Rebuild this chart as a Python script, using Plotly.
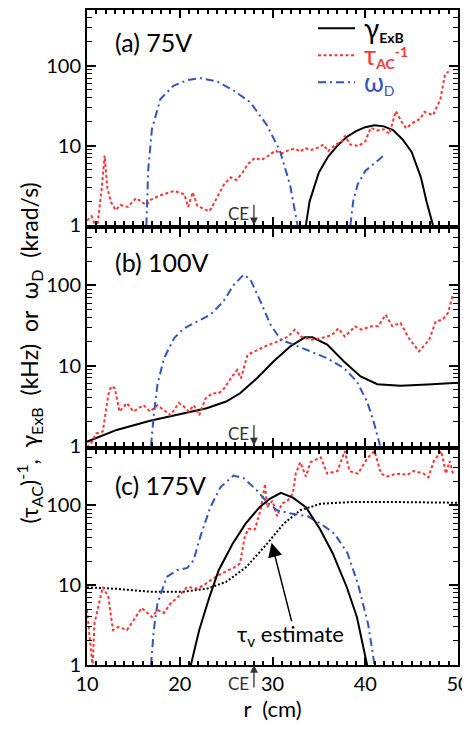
import numpy as np
import plotly.graph_objects as go

# ---------------- data ----------------
# panel (a) 75V
a_gam_r = [33.6, 34.0, 35.0, 36.0, 37.0, 38.0, 39.0, 40.0, 41.0, 42.0, 43.0, 44.0, 45.0, 46.0, 46.6, 47.3]
a_gam_v = [1.0, 2.0, 4.6, 7.3, 10.0, 12.8, 15.2, 17.0, 18.0, 17.4, 15.6, 12.0, 8.3, 4.0, 2.0, 1.0]

a_tau_r = [10.0, 10.5, 10.8, 11.1, 11.6, 11.9, 12.2, 12.6, 13.1, 13.6, 14.4, 15.3, 15.8, 16.4, 16.9,
           18.0, 19.4, 20.5, 20.9, 21.4, 21.9, 22.6, 23.2, 23.7, 24.8, 25.5, 26.1, 26.8, 27.3, 28.1,
           28.8, 29.5, 30.3, 31.0, 31.7, 32.4, 33.0, 33.5, 34.2, 35.0, 35.5, 36.0, 36.8, 37.5, 37.8,
           38.4, 39.3, 40.0, 40.6, 41.3, 42.0, 42.6, 43.3, 43.9, 44.4, 45.2, 45.9, 46.4, 47.3, 48.1,
           48.6, 49.0]
a_tau_v = [1.15, 1.3, 1.05, 0.95, 3.0, 7.5, 2.9, 1.95, 1.55, 1.8, 1.7, 2.2, 2.0, 1.8, 2.1,
           2.4, 2.7, 2.45, 1.7, 2.6, 1.75, 1.6, 1.5, 1.9, 3.3, 4.0, 3.7, 4.6, 5.8, 7.0,
           6.6, 7.4, 8.6, 8.0, 8.7, 9.2, 8.4, 9.3, 8.8, 9.5, 10.3, 8.5, 10.3, 11.3, 13.3,
           10.3, 9.9, 11.3, 16.7, 15.5, 16.0, 14.0, 27.0, 20.0, 16.5, 19.5, 21.5, 26.5, 24.0, 38.0,
           78.0, 85.0]

a_om1_r = [16.4, 16.6, 17.0, 17.9, 19.3, 20.8, 22.2, 24.0, 25.8, 27.6, 29.4, 30.8, 31.9, 32.7]
a_om1_v = [1.0, 5.0, 16.0, 38.0, 56.0, 66.0, 70.0, 64.0, 49.0, 35.0, 18.0, 8.6, 3.2, 1.0]
a_om2_r = [38.4, 38.7, 39.2, 40.0, 41.0, 42.1]
a_om2_v = [1.0, 2.0, 3.3, 4.8, 6.0, 7.7]

# panel (b) 100V
b_gam_r = [10.0, 13.2, 16.8, 20.4, 22.9, 25.0, 26.5, 28.3, 30.1, 31.9, 33.5, 34.3, 35.9, 37.7, 39.5,
           41.3, 43.8, 46.7, 50.0]
b_gam_v = [1.12, 1.57, 2.04, 2.53, 2.93, 3.55, 4.5, 6.9, 11.2, 17.3, 22.5, 22.5, 18.2, 11.2, 7.3,
           5.85, 5.6, 5.8, 6.1]

b_tau_r = [10.0, 10.5, 11.0, 11.7, 12.3, 12.6, 13.0, 13.5, 14.3, 15.0, 16.1, 16.8, 17.6, 18.3, 19.0,
           19.9, 20.4, 21.0, 21.5, 22.1, 22.8, 23.5, 24.2, 24.8, 25.5, 26.2, 26.6, 27.3, 28.4, 29.5,
           30.6, 31.7, 32.4, 33.1, 34.2, 35.3, 36.4, 37.1, 37.8, 38.9, 39.6, 40.7, 41.4, 42.2, 42.9,
           43.8, 44.7, 45.8, 46.9, 47.6, 48.3, 48.9, 49.4]
b_tau_v = [0.95, 1.1, 1.42, 1.5, 4.3, 5.5, 5.2, 2.66, 3.4, 2.66, 3.2, 2.66, 3.2, 2.8, 2.4,
           3.4, 3.1, 2.66, 3.2, 2.4, 3.9, 4.5, 4.5, 5.2, 6.9, 8.8, 6.9, 13.6, 15.7, 18.0,
           20.0, 23.0, 28.0, 23.0, 21.0, 22.0, 24.0, 29.0, 23.0, 30.7, 28.0, 31.0, 31.0, 43.0, 31.0,
           34.0, 22.0, 15.0, 21.0, 35.6, 37.0, 45.0, 73.0]

b_om_r = [16.9, 17.2, 17.6, 18.3, 19.4, 20.4, 21.9, 23.3, 24.7, 25.8, 26.9, 27.6, 28.7, 29.8, 30.9,
          32.3, 34.1, 35.9, 37.7, 39.1, 40.2, 40.9, 41.6]
b_om_v = [1.0, 2.4, 5.8, 12.3, 22.0, 28.7, 35.6, 43.0, 63.0, 101.0, 136.0, 120.0, 63.0, 32.0, 21.0,
          18.2, 15.0, 12.3, 9.3, 6.3, 3.55, 2.0, 1.0]

# panel (c) 175V
c_gam_r = [21.2, 22.1, 23.2, 24.2, 25.7, 27.1, 28.6, 29.7, 30.9, 32.2, 33.6, 35.1, 36.5, 38.0, 39.1, 40.2]
c_gam_v = [1.0, 2.74, 7.1, 15.4, 33.0, 59.0, 95.0, 121.0, 144.0, 125.0, 95.0, 51.0, 25.0, 9.5, 4.0, 1.0]

c_tau_r = [10.0, 10.3, 10.6, 10.8, 11.4, 11.7, 12.3, 12.8, 13.4, 14.3, 15.0, 15.9, 16.5, 17.0, 17.6,
           18.3, 19.0, 19.8, 20.8, 21.9, 22.6, 23.3, 24.3, 25.0, 25.8, 26.5, 27.0, 27.4, 28.1, 28.7,
           29.2, 29.4, 30.0, 30.5, 31.0, 31.6, 32.2, 32.5, 33.0, 33.6, 34.1, 35.2, 35.9, 37.0, 37.8,
           38.3, 39.2, 40.3, 41.0, 41.7, 42.4, 43.1, 43.8, 44.5, 45.2, 46.3, 46.8, 47.4, 48.2, 48.7,
           49.1, 49.5]
c_tau_v = [4.9, 2.3, 0.95, 3.3, 7.1, 9.5, 7.1, 2.74, 3.0, 2.74, 3.6, 5.2, 4.5, 4.0, 4.9,
           4.5, 5.9, 7.1, 9.5, 9.1, 10.0, 11.5, 13.6, 15.0, 16.5, 18.7, 40.0, 51.0, 50.0, 87.0,
           186.0, 95.0, 114.0, 73.0, 105.0, 114.0, 140.0, 250.0, 348.0, 230.0, 348.0, 400.0, 250.0, 270.0, 480.0,
           270.0, 250.0, 400.0, 480.0, 250.0, 230.0, 245.0, 250.0, 240.0, 270.0, 250.0, 225.0, 360.0, 480.0, 250.0,
           360.0, 240.0]

c_om_r = [16.9, 17.2, 17.6, 18.1, 18.6, 19.7, 20.8, 21.5, 22.2, 23.3, 24.4, 25.8, 26.9, 28.3, 29.4,
          30.5, 32.0, 33.8, 35.2, 36.7, 38.1, 39.2, 40.3, 41.0]
c_om_v = [1.0, 2.74, 5.9, 8.7, 12.7, 15.4, 16.5, 20.6, 40.0, 95.0, 170.0, 237.0, 220.0, 155.0, 110.0,
          87.0, 79.0, 73.0, 59.0, 44.0, 25.0, 10.5, 3.3, 1.0]

c_tv_r = [10.0, 13.2, 16.8, 20.4, 22.9, 25.0, 27.2, 29.4, 31.2, 33.0, 35.2, 38.4, 44.0, 50.0]
c_tv_v = [9.4, 9.0, 8.3, 8.3, 9.0, 11.0, 17.0, 33.0, 59.0, 87.0, 105.0, 110.0, 110.0, 108.0]

panel_labels = ["(a) 75V", "(b) 100V", "(c) 175V"]
ce_pos = 28.0

# ---------------- styles ----------------
BLACK = "#000000"
RED = "#ff3333"
BLUE = "#3355bb"
FONT = "Lato"

solid = dict(color=BLACK, width=2)
reddot = dict(color=RED, width=2, dash="3px,2.5px")
bluedd = dict(color=BLUE, width=2, dash="8px,4px,2px,4px")
blackdot = dict(color=BLACK, width=2, dash="2px,2px")

fig = go.Figure()

# y domains (top -> bottom), in paper fraction
domains = [[0.6712, 1.0], [0.3349, 0.6651], [0.0, 0.3288]]


def add(x, y, line, panel):
    fig.add_trace(go.Scatter(
        x=x, y=y, mode="lines", line=line,
        xaxis="x" if panel == 1 else f"x{panel}",
        yaxis="y" if panel == 1 else f"y{panel}",
        showlegend=False, hoverinfo="skip"
    ))


# panel a
add(a_gam_r, a_gam_v, solid, 1)
add(a_tau_r, a_tau_v, reddot, 1)
add(a_om1_r, a_om1_v, bluedd, 1)
add(a_om2_r, a_om2_v, bluedd, 1)
# panel b
add(b_gam_r, b_gam_v, solid, 2)
add(b_tau_r, b_tau_v, reddot, 2)
add(b_om_r, b_om_v, bluedd, 2)
# panel c
add(c_tv_r, c_tv_v, blackdot, 3)
add(c_tau_r, c_tau_v, reddot, 3)
add(c_om_r, c_om_v, bluedd, 3)
add(c_gam_r, c_gam_v, solid, 3)

ymin_tick = [2, 3, 4, 5, 6, 7, 8, 9, 20, 30, 40, 50, 60, 70, 80, 90, 200, 300, 400, 500]

# page body adds an 8px offset, so the figure is 8px smaller and the margins shifted
layout = dict(
    width=462, height=722,
    margin=dict(l=79, r=12, t=0, b=65),
    paper_bgcolor="white", plot_bgcolor="white",
    font=dict(family=FONT, size=20, color=BLACK),
    showlegend=False,
)

for i in range(3):
    k = "" if i == 0 else str(i + 1)
    layout[f"xaxis{k}"] = dict(
        range=[10, 50], anchor=f"y{k}", showgrid=False, zeroline=False,
        showline=True, linewidth=2, linecolor=BLACK, mirror="ticks",
        ticks="inside", ticklen=8, tickwidth=1.5, tickcolor=BLACK,
        tickvals=[10, 20, 30, 40, 50], showticklabels=(i == 2),
        minor=dict(dtick=1, ticks="inside", ticklen=4, tickwidth=1.5, tickcolor=BLACK, showgrid=False),
        title=dict(text="r  (cm)", font=dict(size=22), standoff=2) if i == 2 else None,
        tickfont=dict(size=20),
    )
    layout[f"yaxis{k}"] = dict(
        type="log", range=[0, np.log10(500)], domain=domains[i], anchor=f"x{k}",
        showgrid=False, zeroline=False,
        showline=True, linewidth=2, linecolor=BLACK, mirror="ticks",
        ticks="inside", ticklen=9, tickwidth=1.5, tickcolor=BLACK,
        tickvals=[1, 10, 100], ticktext=["1", "10", "100"],
        minor=dict(tickvals=ymin_tick, ticks="inside", ticklen=5, tickwidth=1.2, tickcolor=BLACK, showgrid=False),
        tickfont=dict(size=20),
    )

fig.update_layout(**layout)

# legend drawn by hand in panel (a)
leg_rows = [
    ("<span style='font-size:28px'>γ</span><b><sub>ExB</sub></b>", solid, 0.915),
    ("<span style='color:#ff3333'><span style='font-size:26px'>τ</span><b><sub>AC</sub><sup>-1</sup></b></span>", reddot, 0.79),
    ("<span style='color:#3355bb'><span style='font-size:26px'>ω</span><sub>D</sub></span>", bluedd, 0.665),
]
for txt, ln, yy in leg_rows:
    fig.add_shape(type="line", xref="x domain", yref="y domain",
                  x0=(318 - 87) / 371, x1=(355 - 87) / 371, y0=yy, y1=yy, line=ln)
    fig.add_annotation(text=txt, xref="x domain", yref="y domain",
                       x=(362 - 87) / 371, y=yy, xanchor="left", yanchor="middle",
                       showarrow=False, font=dict(size=20))

# panel labels
for i, txt in enumerate(panel_labels):
    k = "" if i == 0 else str(i + 1)
    fig.add_annotation(text=txt, xref=f"x{k} domain", yref=f"y{k} domain",
                       x=0.07, y=0.85 if i < 2 else 0.835, xanchor="left", yanchor="middle",
                       showarrow=False, font=dict(size=25))

# CE markers
for i in range(2):
    k = "" if i == 0 else str(i + 1)
    fig.add_annotation(x=ce_pos, y=0, xref=f"x{k}", yref=f"y{k}", ax=0, ay=-22,
                       text="", showarrow=True, arrowhead=2, arrowsize=1.2, arrowwidth=1.3,
                       arrowcolor="#333333")
    fig.add_annotation(x=ce_pos - 0.3, y=0.15, xref=f"x{k}", yref=f"y{k}", text="CE",
                       xanchor="right", yanchor="middle", showarrow=False,
                       font=dict(size=17, color="#333333"))
fig.add_annotation(x=ce_pos, y=0, xref="x3", yref="y3", ax=0, ay=24,
                   text="", showarrow=True, arrowhead=2, arrowsize=1.2, arrowwidth=1.3,
                   arrowcolor="#333333")
fig.add_annotation(x=ce_pos - 0.3, y=-0.085, xref="x3", yref="y3 domain", text="CE",
                   xanchor="right", yanchor="middle", showarrow=False,
                   font=dict(size=17, color="#333333"))

# tau_v estimate
fig.add_annotation(x=29.9, y=np.log10(34), xref="x3", yref="y3",
                   ax=32.1, ay=np.log10(3.4), axref="x3", ayref="y3",
                   text="", showarrow=True, arrowhead=2, arrowsize=1.9, arrowwidth=1.5,
                   arrowcolor=BLACK)
fig.add_annotation(x=31.9, y=np.log10(2.4), xref="x3", yref="y3",
                   text="τ<sub>v</sub> estimate", showarrow=False, font=dict(size=22),
                   xanchor="center", yanchor="middle")

# y title
fig.add_annotation(
    text="(τ<sub>AC</sub>)<sup>-1</sup>,  γ<sub>ExB</sub>  (kHz)  or  ω<sub>D</sub>  (krad/s)",
    xref="paper", yref="paper", x=-0.158, y=0.476, textangle=-90,
    showarrow=False, font=dict(size=23), xanchor="center", yanchor="middle"
)

fig.write_html("out.html")
